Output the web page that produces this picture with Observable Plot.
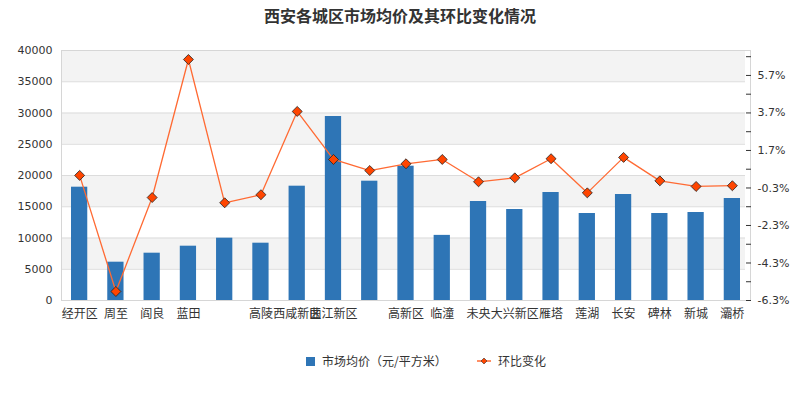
<!DOCTYPE html>
<html><head><meta charset="utf-8">
<script src="https://cdn.jsdelivr.net/npm/d3@7"></script>
<script src="https://cdn.jsdelivr.net/npm/@observablehq/plot@0.6"></script>
<style>
body{margin:0;background:#fff;width:800px;font-family:"Noto Sans CJK SC","Noto Sans",sans-serif;color:#333}
#title{height:30px;line-height:30px;text-align:center;font-size:16px;font-weight:bold;color:#333}
#legend{position:relative;height:42px;font-size:12px;color:#333}
#legend .sq{position:absolute;left:306px;top:17px;width:9px;height:9px;background:#2e75b6}
#legend .t1{position:absolute;left:322px;top:12px;line-height:18px}
#legend .t2{position:absolute;left:498px;top:12px;line-height:18px}
#legend svg{position:absolute;left:476px;top:14px}
</style></head><body>
<div id="title">西安各城区市场均价及其环比变化情况</div>
<div id="chart"></div>
<div id="legend"><span class="sq"></span><span class="t1">市场均价（元/平方米）</span>
<svg width="16" height="14"><line x1="1" y1="7" x2="15" y2="7" stroke="#ff6a33" stroke-width="1.5"/><path d="M8,4 L11,7 L8,10 L5,7Z" fill="#ff4500" stroke="#333" stroke-width="0.6"/></svg>
<span class="t2">环比变化</span></div>
<script>
const districts = ["经开区","周至","阎良","蓝田","鄠邑","高陵","西咸新区","曲江新区","浐灞","高新区","临潼","未央","大兴新区","雁塔","莲湖","长安","碑林","新城","灞桥"];
const shownLabels = ["经开区","周至","阎良","蓝田","","高陵","西咸新区","曲江新区","","高新区","临潼","未央","大兴新区","雁塔","莲湖","长安","碑林","新城","灞桥"];
const prices = [18130,6130,7570,8690,9970,9170,18290,29440,19090,21490,10420,15840,14560,17280,13920,16960,13920,14080,16320];
const changes = [0.37,-5.82,-0.81,6.55,-1.09,-0.66,3.78,1.22,0.63,0.99,1.22,0.03,0.24,1.26,-0.56,1.33,0.08,-0.22,-0.18];
const yTicks = [0,5000,10000,15000,20000,25000,30000,35000,40000];
const pctTicks = [-6.3,-5.3,-4.3,-3.3,-2.3,-1.3,-0.3,0.7,1.7,2.7,3.7,4.7,5.7,6.7];
const pctLabeled = ["-6.3%","","-4.3%","","-2.3%","","-0.3%","","1.7%","","3.7%","","5.7%",""];
const pctDomain = [-6.3, 7.03];
const yMax = 40000;
const toY = p => (p - pctDomain[0]) / (pctDomain[1] - pctDomain[0]) * yMax;

const data = districts.map((d, i) => ({name: d, price: prices[i], pct: changes[i]}));
const labelMap = new Map(districts.map((d, i) => [d, shownLabels[i]]));
const bands = [];
for (let i = 0; i < yTicks.length - 1; i++) {
  if ((yTicks.length - 2 - i) % 2 === 0) bands.push({y1: yTicks[i], y2: yTicks[i + 1]});
}
const rightTicks = pctTicks.map((p, i) => ({y: toY(p), label: pctLabeled[i]}));
const rightLabelMap = new Map(rightTicks.map(t => [t.y, t.label]));

const chart = Plot.plot({
  width: 800,
  height: 310,
  marginTop: 20,
  marginBottom: 40,
  marginLeft: 61,
  marginRight: 50,
  style: {fontFamily: "'Noto Sans CJK SC','Noto Sans',sans-serif", fontSize: "12px", color: "#333", background: "#fff"},
  x: {domain: districts, padding: 0, round: false, label: null},
  y: {domain: [0, yMax], label: null},
  marks: [
    Plot.rect(bands, {y1: "y1", y2: "y2", fill: "#f3f3f3", insetRight: 5}),
    Plot.ruleY(yTicks, {stroke: "#dcdcdc", insetRight: 5}),
    Plot.frame({stroke: "#d6d6d6"}),
    Plot.barY(data, {x: "name", y: "price", fill: "#2e75b6", insetLeft: 10, insetRight: 10}),
    Plot.line(data, {x: "name", y: d => toY(d.pct), stroke: "#ff6a33", strokeWidth: 1.3}),
    Plot.dot(data, {x: "name", y: d => toY(d.pct), symbol: "diamond2", r: 4.5, fill: "#ff4500", stroke: "#222", strokeWidth: 0.8}),
    Plot.axisY({ticks: yTicks, tickSize: 0, tickPadding: 9, tickFormat: d => String(d), fontSize: 11, fontFamily: "DejaVu Sans", label: null, fill: "#333"}),
    Plot.axisY({anchor: "right", ticks: rightTicks.map(t => t.y), tickSize: 5, dx: -5, tickFormat: () => "", label: null, stroke: "#333"}),
    Plot.axisY({anchor: "right", ticks: rightTicks.map(t => t.y), tickSize: 0, tickPadding: 7, tickFormat: v => rightLabelMap.get(v), fontSize: 11, fontFamily: "DejaVu Sans", label: null, fill: "#333"}),
    Plot.axisX({tickSize: 0, tickPadding: 9, tickFormat: d => labelMap.get(d), fontSize: 12, label: null, fill: "#333"})
  ]
});
document.getElementById("chart").appendChild(chart);
</script>
</body></html>
